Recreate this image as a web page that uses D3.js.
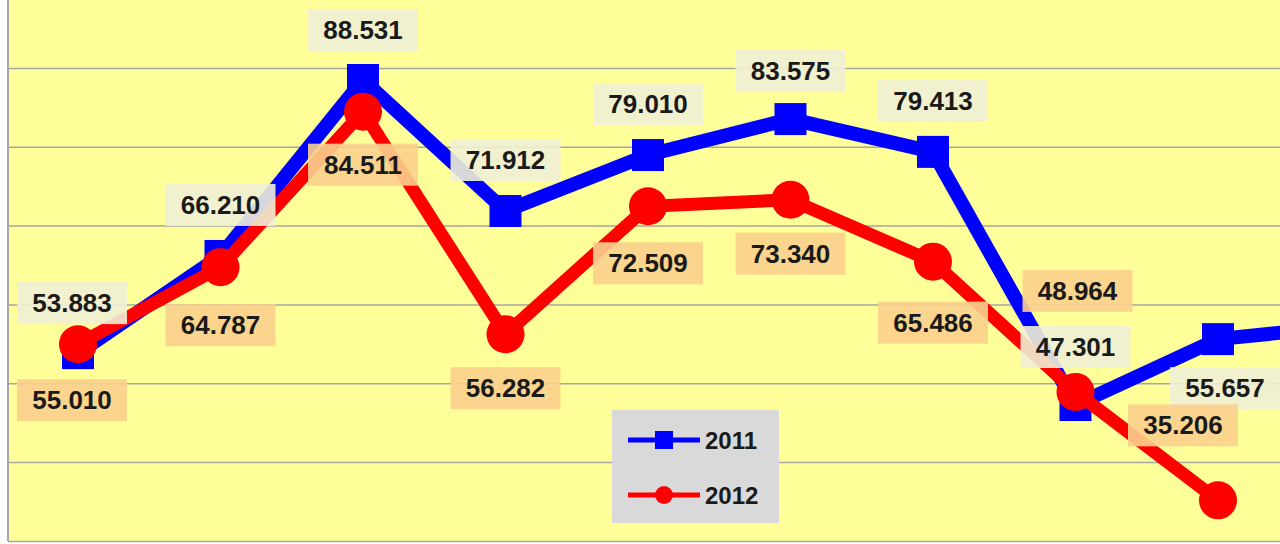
<!DOCTYPE html><html><head><meta charset="utf-8">
<script src="https://cdn.jsdelivr.net/npm/d3@7"></script>
<style>body{margin:0;background:#fff}svg{display:block}</style></head><body>
<svg id="c" width="1280" height="544"></svg>
<script>
const categories=[1,2,3,4,5,6,7,8,9,10];
const series2011=[53.883,66.210,88.531,71.912,79.010,83.575,79.413,47.301,55.657,57.5];
const series2012=[55.010,64.787,84.511,56.282,72.509,73.340,65.486,48.964,35.206];
const labels2011=["53.883","66.210","88.531","71.912","79.010","83.575","79.413","47.301","55.657"];
const labels2012=["55.010","64.787","84.511","56.282","72.509","73.340","65.486","48.964","35.206"];
const ticks=[20,30,40,50,60,70,80,90];
// label offsets (layout)
const off2011=[[-6,-50],[0,-51],[0,-50],[0,-51],[0,-51],[0,-48],[0,-51],[0,-58],[7,49]];
const off2012=[[-6,56],[0,58],[0,53],[0,54],[0,57],[0,54],[0,61],[2,-101],[-35,-75]];
const svg=d3.select("#c");
const x=d3.scaleLinear().domain([1,2]).range([78,220.5]);
const y=d3.scaleLinear().domain([88.531,47.301]).range([80,405]);
svg.append("rect").attr("x",8).attr("y",0).attr("width",1272).attr("height",541).attr("fill","#ffff99");
svg.selectAll(".g").data(ticks).join("line").attr("x1",8).attr("x2",1280).attr("y1",d=>y(d)).attr("y2",d=>y(d)).attr("stroke","#a6a6a6").attr("stroke-width",1.5);
svg.append("line").attr("x1",8).attr("x2",8).attr("y1",0).attr("y2",541).attr("stroke","#a6a6a6").attr("stroke-width",2);
const line=d3.line().x((d,i)=>x(categories[i])).y(d=>y(d));
svg.append("path").attr("d",line(series2011)).attr("fill","none").attr("stroke","#0000ff").attr("stroke-width",14).attr("stroke-linejoin","miter");
svg.selectAll(".sq").data(series2011).join("rect").attr("x",(d,i)=>x(categories[i])-16).attr("y",d=>y(d)-16).attr("width",32).attr("height",32).attr("fill","#0000ff");
svg.append("path").attr("d",line(series2012)).attr("fill","none").attr("stroke","#ff0000").attr("stroke-width",13);
svg.selectAll(".ci").data(series2012).join("circle").attr("cx",(d,i)=>x(categories[i])).attr("cy",d=>y(d)).attr("r",19).attr("fill","#ff0000");
function lab(vals,labs,offs,bg){
  labs.forEach((t,i)=>{
    const cx=x(categories[i])+offs[i][0], cy=y(vals[i])+offs[i][1];
    const g=svg.append("g");
    g.append("rect").attr("x",cx-55).attr("y",cy-21).attr("width",110).attr("height",42).attr("fill",bg).attr("opacity",0.9);
    g.append("text").attr("x",cx).attr("y",cy+9).attr("text-anchor","middle").attr("font-family","Liberation Sans, Arial").attr("font-weight","bold").attr("font-size",26).attr("fill","#1a1a1a").text(t);
  });
}
lab(series2011,labels2011,off2011,"#efefd6");
lab(series2012,labels2012,off2012,"#fbd08d");
const lg=svg.append("g");
lg.append("rect").attr("x",612).attr("y",410).attr("width",167).attr("height",113).attr("fill","#d9d9d9");
[["2011","#0000ff","sq",440],["2012","#ff0000","ci",495]].forEach(([t,c,m,yy])=>{
  lg.append("line").attr("x1",628).attr("x2",700).attr("y1",yy).attr("y2",yy).attr("stroke",c).attr("stroke-width",5);
  if(m==="sq")lg.append("rect").attr("x",655).attr("y",yy-9).attr("width",18).attr("height",18).attr("fill",c);
  else lg.append("circle").attr("cx",664).attr("cy",yy).attr("r",9).attr("fill",c);
  lg.append("text").attr("x",705).attr("y",yy+9).attr("font-family","Liberation Sans, Arial").attr("font-weight","bold").attr("font-size",24).attr("fill","#1a1a1a").text(t);
});
</script></body></html>
